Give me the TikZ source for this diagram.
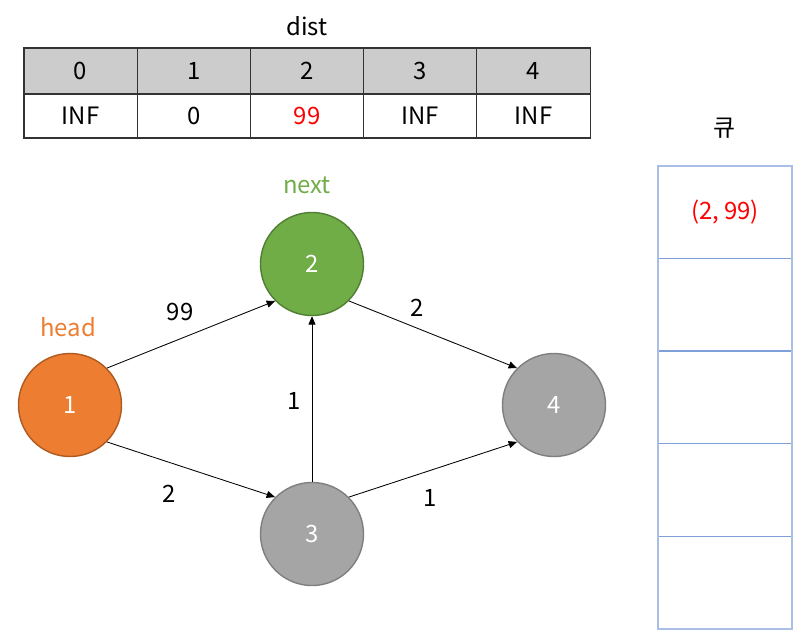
\documentclass[tikz,border=0pt]{standalone}
\usepackage{fontspec}
\setmainfont{Noto Sans CJK KR}
\usepackage{tikz}
\usetikzlibrary{arrows.meta,positioning}
\definecolor{headorange}{HTML}{ED7D31}
\definecolor{headorangeedge}{HTML}{AE5A21}
\definecolor{nextgreen}{HTML}{70AD47}
\definecolor{nextgreenedge}{HTML}{507E32}
\definecolor{idlegray}{HTML}{A5A5A5}
\definecolor{idlegrayedge}{HTML}{7F7F7F}
\definecolor{cellgray}{HTML}{CCCCCC}
\definecolor{gridline}{HTML}{333333}
\definecolor{queueblue}{HTML}{A9BFE6}
\definecolor{queueline}{HTML}{7E9FD8}
\definecolor{hotred}{HTML}{FF0000}
\tikzset{
  vertex/.style={
    circle, draw=#1edge, fill=#1, line width=1pt,
    minimum size=2.575cm, inner sep=0pt,
    text=white, font=\fontsize{17}{20}\selectfont
  },
  vertex/.default=idlegray,
  tcell/.style={
    rectangle, draw=gridline, fill=#1, line width=0.8pt,
    minimum width=2.83cm, inner sep=0pt, outer sep=0pt,
    font=\fontsize{17}{20}\selectfont
  },
  tcell/.default=white,
  qcell/.style={
    rectangle, draw=queueline, line width=0.8pt,
    minimum width=3.36cm, minimum height=2.315cm,
    inner sep=0pt, outer sep=0pt,
    font=\fontsize{17}{20}\selectfont
  },
  edgearrow/.style={
    -{Triangle[length=6pt,width=5pt]}, line width=0.6pt, color=black
  },
  weight/.style={
    font=\fontsize{17}{20}\selectfont, inner sep=0pt
  },
}
\begin{document}
\begin{tikzpicture}[x=0.025cm, y=-0.025cm]
  \useasboundingbox (0,0) rectangle (806,641);

  % dist table
  \node[weight] (distlbl) at (307,26) {dist};
  \node[tcell=cellgray, minimum height=1.15cm] (h0) at (80.6,71) {0};
  \node[tcell=cellgray, minimum height=1.15cm, right=0pt of h0] (h1) {1};
  \node[tcell=cellgray, minimum height=1.15cm, right=0pt of h1] (h2) {2};
  \node[tcell=cellgray, minimum height=1.15cm, right=0pt of h2] (h3) {3};
  \node[tcell=cellgray, minimum height=1.15cm, right=0pt of h3] (h4) {4};
  \node[tcell, minimum height=1.1cm, below=0pt of h0] (v0) {INF};
  \node[tcell, minimum height=1.1cm, below=0pt of h1] (v1) {0};
  \node[tcell, minimum height=1.1cm, below=0pt of h2, text=hotred] (v2) {99};
  \node[tcell, minimum height=1.1cm, below=0pt of h3] (v3) {INF};
  \node[tcell, minimum height=1.1cm, below=0pt of h4] (v4) {INF};

  % queue
  \node[weight] (qlbl) at (724,128) {큐};
  \node[qcell, text=hotred] (q0) at (725,212) {(2, 99)};
  \node[qcell, below=0pt of q0] (q1) {};
  \node[qcell, below=0pt of q1] (q2) {};
  \node[qcell, below=0pt of q2] (q3) {};
  \node[qcell, below=0pt of q3] (q4) {};
  \draw[queueblue, line width=1.2pt] (q0.north west) rectangle (q4.south east);

  % graph
  \node[vertex=headorange] (n1) at (70,405) {1};
  \node[vertex=nextgreen] (n2) at (312,264) {2};
  \node[vertex] (n3) at (312,534) {3};
  \node[vertex] (n4) at (554,405) {4};
  \node[weight, text=headorange] (headlbl) at (68,327) {head};
  \node[weight, text=nextgreen] (nextlbl) at (307,185) {next};

  \draw[edgearrow] (n1.north east) -- (n2.south west)
    node[weight, midway, shift={(-11,-23)}] {99};
  \draw[edgearrow] (n1.south east) -- (n3.north west)
    node[weight, midway, shift={(-22,24)}] {2};
  \draw[edgearrow] (n3.north) -- (n2.south)
    node[weight, midway, shift={(-18,2)}] {1};
  \draw[edgearrow] (n2.south east) -- (n4.north west)
    node[weight, midway, shift={(-16,-27)}] {2};
  \draw[edgearrow] (n3.north east) -- (n4.south west)
    node[weight, midway, shift={(-3,28)}] {1};
\end{tikzpicture}
\end{document}
